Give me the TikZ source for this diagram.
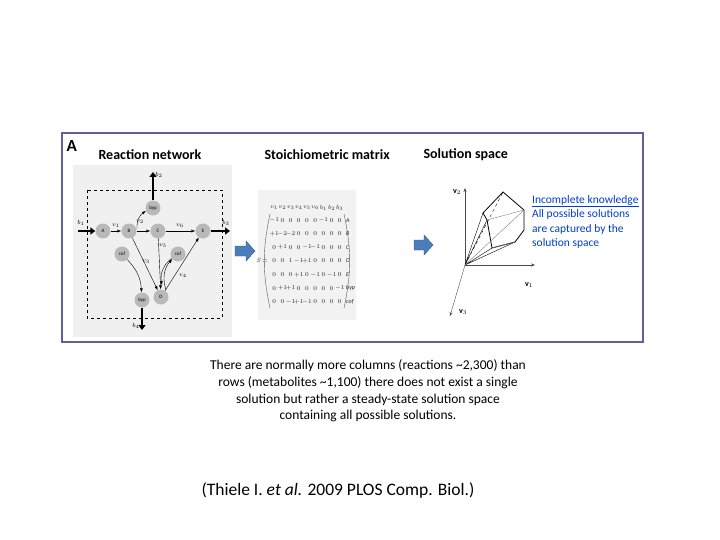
\documentclass[tikz,border=0pt]{standalone}
\usepackage{fontspec}
\setmainfont{Carlito}
\usetikzlibrary{arrows.meta}
\definecolor{steel}{HTML}{4A7EBB}
\begin{document}
\begin{tikzpicture}[x=1pt,y=-1pt,
 met/.style={circle,fill=gray!55,minimum size=15pt,inner sep=0pt,font=\fontsize{5}{5}\selectfont\rmfamily},
 rx/.style={-{Latex[length=4pt]},thin},
 fat/.style={line width=2.2pt,-{Triangle[length=5pt,width=7pt]}},
 ttl/.style={font=\bfseries\fontsize{14}{16}\selectfont,anchor=west},
 blu/.style={fill=steel,draw=steel!70!black},
 lbl/.style={font=\fontsize{6}{6}\selectfont},
 ent/.style={font=\fontsize{6}{7}\selectfont,inner sep=0pt,text=black!85},
 captxt/.style={font=\fontsize{13.5}{16.7}\selectfont}]
\useasboundingbox (0,0) rectangle (720,540);
% frame
\draw[line width=1.4pt,draw=blue!25!gray] (62,133) rectangle (643,342);
\node[ttl,font=\bfseries\fontsize{17}{18}\selectfont] at (63,146) {A};
\node[ttl] at (95,155) {Reaction network};
\node[ttl] at (261,155) {Stoichiometric matrix};
\node[ttl] at (420,155) {Solution space};
% network panel
\fill[gray!12] (73,165) rectangle (232,337);
\draw[dashed,thin] (87,190) rectangle (222,318);
\node[met] (A) at (103,231) {A};
\node[met] (B) at (129,231) {B};
\node[met] (C) at (158,231) {C};
\node[met] (E) at (203,231) {E};
\node[met] (by1) at (153,208) {byp};
\node[met] (cf1) at (122,254) {cof};
\node[met] (cf2) at (178,254) {cof};
\node[met] (by2) at (142,300) {byp};
\node[met] (D) at (161,297) {D};
\coordinate (b1s) at (78,231);
\coordinate (b2e) at (153,172);
\coordinate (b3e) at (230,231);
\coordinate (b4e) at (142,330);
\draw[fat] (b1s) -- (A);
\draw[fat] (by1) -- (b2e);
\draw[fat] (E) -- (b3e);
\draw[fat] (by2) -- (b4e);
\draw[rx] (A) -- (B);
\draw[rx] (B) -- (C);
\draw[rx] (C) -- (E);
\draw[rx] (137,229) to[bend left=30] (by1);
\draw[rx] (B) -- (D);
\draw[rx] (C) -- (D);
\draw[rx] (cf1) to[bend left=20] (by2);
\draw[rx] (D) -- (E);
\draw[rx] (166,290) to[bend left=30] (cf2);
\draw[rx] (cf2) to[bend right=30] (162,285);
\node[lbl] at (81,223) {$b_1$};
\node[lbl] at (159,175) {$b_2$};
\node[lbl] at (226,223) {$b_3$};
\node[lbl] at (136,326) {$b_4$};
\node[lbl] at (116,226) {$v_1$};
\node[lbl] at (140,222) {$v_2$};
\node[lbl] at (180,226) {$v_6$};
\node[lbl] at (146,262) {$v_3$};
\node[lbl] at (163,246) {$v_5$};
\node[lbl] at (183,276) {$v_4$};
% matrix panel
\fill[gray!10] (258,190) rectangle (356,320);
\node[ent,anchor=east] (S) at (268,260) {$S\!=$};
\foreach \h [count=\c] in {v_1,v_2,v_3,v_4,v_5,v_6,b_1,b_2,b_3}
  \node[ent] (h\c) at ({266+8.2*\c},208) {$\h$};
\foreach \row [count=\r] in {{-1,0,0,0,0,0,-1,0,0},{+1,-2,-2,0,0,0,0,0,0},{0,+1,0,0,-1,-1,0,0,0},{0,0,1,-1,+1,0,0,0,0},{0,0,0,+1,0,-1,0,-1,0},{0,+1,+1,0,0,0,0,0,-1},{0,0,-1,+1,-1,0,0,0,0}}
  \foreach \v [count=\c] in \row
    \node[ent] (m\r\c) at ({266+8.2*\c},{206.5+13.6*\r}) {$\v$};
\foreach \l [count=\r] in {A,B,C,D,E,byp,cof}
  \node[ent,anchor=west] (r\r) at (346,{206.5+13.6*\r}) {$\mathit{\l}$};
\draw[thin,gray!70!black] (270,214) to[bend right=12] (270,308);
\draw[thin,gray!70!black] (344,214) to[bend left=12] (344,308);
% blue arrows
\draw[blu] (235,246) -- (246,246) -- (246,241) -- (255,251) -- (246,261) -- (246,256) -- (235,256) -- cycle;
\draw[blu] (414,240) -- (424,240) -- (424,235) -- (433,245) -- (424,255) -- (424,250) -- (414,250) -- cycle;
% solution space
\coordinate (O) at (465,265);
\coordinate (v2) at (465,188);
\coordinate (v1) at (535,265);
\coordinate (v3) at (450,316);
\draw[-{Stealth[length=4pt]},gray!60!black] (O) -- (v2);
\draw[-{Stealth[length=4pt]},gray!60!black] (O) -- (v1);
\draw[-{Stealth[length=4pt]},gray!60!black] (O) -- (v3);
\node[font=\fontsize{8}{8}\selectfont] at (457,192) {$\mathbf{v}_2$};
\node[font=\fontsize{8}{8}\selectfont] at (529,285) {$\mathbf{v}_1$};
\node[font=\fontsize{8}{8}\selectfont] at (463,312) {$\mathbf{v}_3$};
\coordinate (p1) at (503,192);
\coordinate (p2) at (524,210);
\coordinate (p3) at (524,230);
\coordinate (p4) at (515,242);
\coordinate (p5) at (492,248);
\coordinate (p6) at (483,213);
\coordinate (p7) at (487,220);
\draw[thick] (p6) -- (p1) -- (p2) -- (p3) -- (p4) -- (p5) -- (p7) -- (p6);
\draw[thin,dashed] (O) -- (p1);
\draw[thin] (O) -- (p6) (O) -- (p7) (O) -- (p5) (O) -- (p4);
\draw[thin,gray] (O) -- (p2) (p5) -- (p4) (p7) -- (p2);
\node[anchor=west,inner sep=0pt,font=\fontsize{11.5}{14.5}\selectfont,text=blue!70!cyan!80!black,align=left] at (532,222) {\underline{Incomplete knowledge}\\All possible solutions\\are captured by the\\solution space};
% caption
\node[captxt,align=center] at (368,391) {There are normally more columns (reactions \textasciitilde2,300) than\\rows (metabolites \textasciitilde1,100) there does not exist a single\\solution but rather a steady-state solution space\\containing all possible solutions.};
\node[font=\fontsize{17.5}{20}\selectfont] at (338,491) {(Thiele I. \emph{et al.} 2009 PLOS Comp. Biol.)};
\end{tikzpicture}
\end{document}
